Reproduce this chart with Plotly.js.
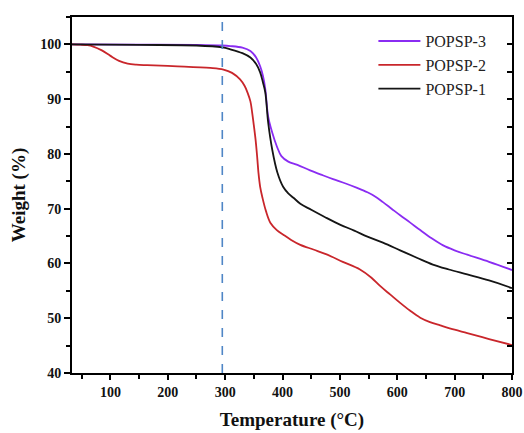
<!DOCTYPE html>
<html>
<head>
<meta charset="utf-8">
<script src="https://cdn.plot.ly/plotly-3.0.1.min.js"></script>
<style>
  html, body { margin: 0; padding: 0; background: #fff; }
  #chart { width: 524px; height: 433px; }
</style>
</head>
<body>
<div id="chart"></div>
<script>
// TGA curves: weight retained (%) versus temperature (°C)
const tempP3 = [33, 150, 250, 295, 309, 330, 344, 354, 361, 366, 370, 375, 382, 390, 398, 410, 426, 448, 470, 488, 510, 530, 548, 562, 575, 590, 605, 622, 640, 660, 680, 700, 722, 760, 800];
const weightP3 = [100, 99.95, 99.9, 99.8, 99.7, 99.4, 98.8, 97.6, 96.0, 94.2, 91.8, 86.8, 83.9, 81.4, 79.6, 78.6, 78.0, 77.0, 76.1, 75.4, 74.6, 73.8, 73.0, 72.2, 71.2, 70.0, 68.8, 67.5, 66.1, 64.6, 63.3, 62.4, 61.6, 60.3, 58.8];

const tempP2 = [33, 48, 60, 70, 85, 100, 115, 130, 145, 164, 217, 274, 297, 312, 326, 334, 339, 344, 347, 350, 353, 356, 358, 361, 365, 371, 379, 390, 402, 415, 431, 455, 478, 505, 535, 555, 570, 588, 605, 622, 640, 657, 675, 700, 722, 760, 800];
const weightP2 = [100, 99.95, 99.85, 99.6, 98.9, 97.9, 97.0, 96.5, 96.3, 96.2, 96.0, 95.7, 95.4, 94.8, 93.6, 92.4, 91.2, 89.6, 87.6, 85.2, 82.6, 79.2, 76.6, 74.0, 72.0, 69.6, 67.4, 66.1, 65.2, 64.3, 63.4, 62.5, 61.6, 60.3, 58.9, 57.4, 55.9, 54.3, 52.8, 51.4, 50.1, 49.3, 48.7, 47.9, 47.3, 46.2, 45.1];

const tempP1 = [33, 150, 250, 295, 309, 330, 344, 354, 361, 366, 370, 375, 382, 391, 401, 410, 419, 431, 450, 475, 500, 525, 548, 575, 605, 635, 662, 690, 722, 760, 800];
const weightP1 = [100, 99.9, 99.8, 99.45, 99.1, 98.4, 97.6, 96.4, 94.9, 93.0, 91.2, 85.7, 80.8, 76.6, 74.0, 72.8, 72.0, 70.9, 69.8, 68.4, 67.1, 66.0, 64.9, 63.8, 62.4, 61.0, 59.8, 58.9, 58.0, 56.9, 55.5];

const markerTemp = 295;   // dashed reference line

const serif = 'Liberation Serif, Times New Roman, serif';

const traces = [
  { name: 'POPSP-3', x: tempP3, y: weightP3, type: 'scatter', mode: 'lines',
    line: { color: '#8a2cf2', width: 1.8, shape: 'spline', smoothing: 1 } },
  { name: 'POPSP-2', x: tempP2, y: weightP2, type: 'scatter', mode: 'lines',
    line: { color: '#c9262b', width: 1.8, shape: 'spline', smoothing: 1 } },
  { name: 'POPSP-1', x: tempP1, y: weightP1, type: 'scatter', mode: 'lines',
    line: { color: '#151515', width: 1.8, shape: 'spline', smoothing: 1 } },
  // empty trace so the right-hand frame axis gets drawn
  { x: [], y: [], yaxis: 'y2', type: 'scatter', mode: 'lines', showlegend: false, hoverinfo: 'skip' }
];

const layout = {
  width: 524, height: 433,
  margin: { l: 72, r: 12, t: 17, b: 60 },
  paper_bgcolor: '#fff', plot_bgcolor: '#fff',
  showlegend: true,
  legend: {
    x: 0.685, y: 0.98, xanchor: 'left', yanchor: 'top',
    bgcolor: 'rgba(0,0,0,0)', borderwidth: 0,
    font: { family: serif, size: 16, color: '#222' },
    itemwidth: 42, tracegroupgap: 0
  },
  xaxis: {
    range: [33, 800], tick0: 0, dtick: 100,
    showgrid: false, zeroline: false,
    showline: true, linecolor: '#000', linewidth: 2, mirror: true,
    ticks: 'outside', ticklen: 5, tickwidth: 2, tickcolor: '#000',
    minor: { dtick: 50, tick0: 0, ticks: 'outside', ticklen: 4, tickwidth: 2, tickcolor: '#000', showgrid: false },
    tickfont: { family: serif, size: 14, color: '#111', weight: 'bold' },
    title: { text: '<b>Temperature (°C)</b>', font: { family: serif, size: 19, color: '#111' }, standoff: 14 }
  },
  yaxis: {
    range: [40, 105], tick0: 0, dtick: 10,
    showgrid: false, zeroline: false,
    showline: true, linecolor: '#000', linewidth: 2, mirror: false,
    ticks: 'outside', ticklen: 6, tickwidth: 2, tickcolor: '#000',
    minor: { dtick: 5, tick0: 0, ticks: 'outside', ticklen: 4, tickwidth: 2, tickcolor: '#000', showgrid: false },
    tickfont: { family: serif, size: 14, color: '#111', weight: 'bold' },
    title: { text: '<b>Weight (%)</b>', font: { family: serif, size: 19, color: '#111' }, standoff: 10 }
  },
  yaxis2: {
    overlaying: 'y', side: 'right', anchor: 'x',
    range: [40, 105], tick0: 0, dtick: 5,
    showgrid: false, zeroline: false, showticklabels: false,
    showline: true, linecolor: '#000', linewidth: 2,
    ticks: 'inside', ticklen: 5, tickwidth: 2, tickcolor: '#000'
  },
  shapes: [
    { type: 'line', xref: 'x', yref: 'paper', x0: markerTemp, x1: markerTemp, y0: 0, y1: 1,
      line: { color: '#4f86c6', width: 1.6, dash: 'dash' } }
  ]
};

Plotly.newPlot('chart', traces, layout, { displayModeBar: false, staticPlot: true });
</script>
</body>
</html>
